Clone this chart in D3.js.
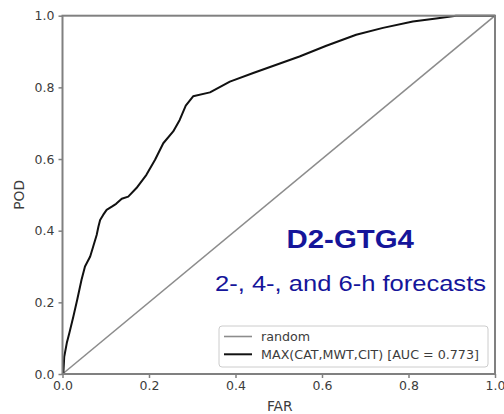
<!DOCTYPE html>
<html>
<head>
<meta charset="utf-8">
<script src="https://cdn.jsdelivr.net/npm/d3@7"></script>
<style>
  html, body { margin: 0; padding: 0; background: #fff; }
  svg { display: block; }
</style>
</head>
<body>
<svg id="chart" width="504" height="414"></svg>
<script>
// ROC curve: false alarm ratio (FAR) vs probability of detection (POD)
const far = [0, 0.002, 0.004, 0.010, 0.016, 0.025, 0.034, 0.044, 0.052, 0.064, 0.071, 0.079, 0.083,
  0.087, 0.094, 0.102, 0.114, 0.124, 0.137, 0.152, 0.171, 0.194, 0.214, 0.233, 0.256, 0.271,
  0.285, 0.302, 0.341, 0.387, 0.441, 0.548, 0.610, 0.679, 0.741, 0.810, 0.864, 0.910, 1.0];
const pod = [0, 0.003, 0.048, 0.087, 0.115, 0.160, 0.207, 0.263, 0.300, 0.328, 0.356, 0.388, 0.411,
  0.430, 0.444, 0.458, 0.467, 0.475, 0.489, 0.495, 0.519, 0.556, 0.598, 0.644, 0.677, 0.709,
  0.749, 0.775, 0.786, 0.816, 0.840, 0.886, 0.916, 0.947, 0.966, 0.984, 0.992, 1.0, 1.0];
const randomLine = [[0, 0], [1, 1]];
const ticks = [0, 0.2, 0.4, 0.6, 0.8, 1.0];
const legendLabels = ["random", "MAX(CAT,MWT,CIT) [AUC = 0.773]"];
const title = "D2-GTG4";
const subtitle = "2-, 4-, and 6-h forecasts";

const svg = d3.select("#chart");
const x = d3.scaleLinear().domain([0, 1]).range([62.5, 495]);
const y = d3.scaleLinear().domain([0, 1]).range([374, 15.7]);

const tickFont = "'DejaVu Sans', sans-serif";
const spineColor = "#808080";
const textColor = "#3c3c3c";

// diagonal reference line
const line = d3.line().x(d => x(d[0])).y(d => y(d[1]));
svg.append("path")
  .datum(randomLine)
  .attr("d", line)
  .attr("fill", "none")
  .attr("stroke", "#8c8c8c")
  .attr("stroke-width", 1.6);

// ROC curve
svg.append("path")
  .datum(far.map((f, i) => [f, pod[i]]))
  .attr("d", line)
  .attr("fill", "none")
  .attr("stroke", "#111")
  .attr("stroke-width", 2)
  .attr("stroke-linejoin", "round");

// axes
const xAxis = svg.append("g")
  .attr("transform", `translate(0,${y(0)})`)
  .call(d3.axisBottom(x).tickValues(ticks).tickFormat(d3.format(".1f")).tickSize(4).tickPadding(3));
const yAxis = svg.append("g")
  .attr("transform", `translate(${x(0)},0)`)
  .call(d3.axisLeft(y).tickValues(ticks).tickFormat(d3.format(".1f")).tickSize(4).tickPadding(4));
[xAxis, yAxis].forEach(g => {
  g.select(".domain").remove();
  g.selectAll(".tick line").attr("stroke", spineColor).attr("stroke-width", 1.5);
  g.selectAll(".tick text")
    .attr("fill", textColor)
    .style("font-family", tickFont)
    .style("font-size", "12.5px");
});

// frame
svg.append("rect")
  .attr("x", x(0)).attr("y", y(1))
  .attr("width", x(1) - x(0)).attr("height", y(0) - y(1))
  .attr("fill", "none")
  .attr("stroke", spineColor)
  .attr("stroke-width", 2);

// axis titles
svg.append("text")
  .attr("x", (x(0) + x(1)) / 2 + 1).attr("y", 411)
  .attr("text-anchor", "middle")
  .attr("fill", textColor)
  .style("font-family", tickFont).style("font-size", "13.8px")
  .text("FAR");
svg.append("text")
  .attr("transform", `translate(24,${(y(0) + y(1)) / 2}) rotate(-90)`)
  .attr("text-anchor", "middle")
  .attr("fill", textColor)
  .style("font-family", tickFont).style("font-size", "13.8px")
  .text("POD");

// annotation
svg.append("text")
  .attr("x", 286.5).attr("y", 248.3)
  .attr("textLength", 127.5).attr("lengthAdjust", "spacingAndGlyphs")
  .attr("fill", "#15159a")
  .style("font-family", "'Liberation Sans', Arial, sans-serif")
  .style("font-weight", "bold").style("font-size", "25.5px")
  .text(title);
svg.append("text")
  .attr("x", 215).attr("y", 290.8)
  .attr("textLength", 271).attr("lengthAdjust", "spacingAndGlyphs")
  .attr("fill", "#15159a")
  .style("font-family", "'Liberation Sans', Arial, sans-serif")
  .style("font-size", "22.3px")
  .text(subtitle);

// legend
const lg = svg.append("g");
lg.append("rect")
  .attr("x", 219).attr("y", 326).attr("width", 269).attr("height", 41)
  .attr("rx", 3)
  .attr("fill", "#fff").attr("fill-opacity", 0.85)
  .attr("stroke", "#cccccc").attr("stroke-width", 1);
const legendColors = ["#8c8c8c", "#111"];
const legendWidths = [1.6, 2];
legendLabels.forEach((lab, i) => {
  const yy = 336.5 + i * 17.8;
  lg.append("line")
    .attr("x1", 224).attr("x2", 252).attr("y1", yy).attr("y2", yy)
    .attr("stroke", legendColors[i]).attr("stroke-width", legendWidths[i]);
  lg.append("text")
    .attr("x", 261).attr("y", yy).attr("dy", "0.35em")
    .attr("fill", textColor)
    .style("font-family", tickFont).style("font-size", "12.7px")
    .text(lab);
});
</script>
</body>
</html>
